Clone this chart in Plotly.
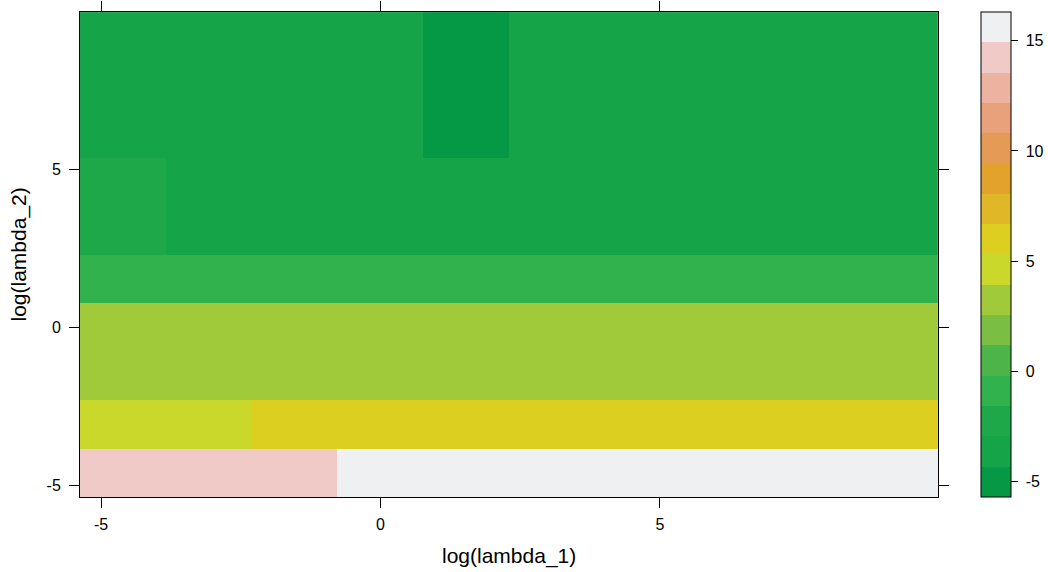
import plotly.graph_objects as go
import numpy as np

# grid coordinates (log scale values)
log_lambda_1 = [-4.61, -3.07, -1.54, 0.0, 1.54, 3.07, 4.61, 6.14, 7.68, 9.21]
log_lambda_2 = [-4.61, -3.07, -1.54, 0.0, 1.54, 3.07, 4.61, 6.14, 7.68, 9.21]

# z values, one list per log_lambda_2 row (bottom to top)
row_0 = [14.20, 14.30, 14.40, 14.94, 14.95, 14.95, 14.95, 14.95, 14.95, 14.95]
row_1 = [4.70, 4.95, 5.80, 6.10, 6.25, 6.30, 6.30, 6.30, 6.30, 6.30]
row_2 = [3.40, 3.40, 3.35, 3.30, 3.30, 3.30, 3.30, 3.30, 3.30, 3.30]
row_3 = [2.90, 2.95, 2.95, 2.95, 2.95, 2.95, 2.95, 2.95, 2.95, 2.95]
row_4 = [-0.80, -0.85, -0.90, -0.90, -0.90, -0.90, -0.90, -0.90, -0.90, -0.90]
row_5 = [-2.60, -3.40, -3.60, -3.70, -3.70, -3.70, -3.70, -3.70, -3.70, -3.70]
row_6 = [-2.80, -3.50, -3.70, -3.80, -3.90, -3.80, -3.80, -3.80, -3.80, -3.80]
row_7 = [-3.70, -3.80, -3.90, -3.95, -4.35, -3.90, -3.85, -3.85, -3.85, -3.85]
row_8 = [-3.70, -3.80, -3.85, -3.95, -4.35, -3.90, -3.85, -3.85, -3.85, -3.85]
row_9 = [-3.65, -3.75, -3.85, -3.90, -4.34, -3.90, -3.85, -3.85, -3.85, -3.85]

colorbar_ticks = [-5, 0, 5, 10, 15]
colorbar_labels = ["\u00a0-5", "\u00a00", "\u00a05", "\u00a010", "\u00a015"]
axis_ticks = [-5, 0, 5]
axis_labels = ["-5", "0", "5"]

# 16 level colours (terrain-like), low to high
level_colors = [
    "#059845", "#15a448", "#1fa84a", "#31b24c", "#4db44a", "#7bbe44",
    "#a1ca3a", "#c9d82b", "#dccf1f", "#e0b726", "#e3a22b", "#e59a55",
    "#e9a17c", "#ebb3a0", "#efcac6", "#eef0f2",
]

FONT = "Liberation Sans, Arial, Helvetica, sans-serif"

z = [row_0, row_1, row_2, row_3, row_4, row_5, row_6, row_7, row_8, row_9]
zarr = np.array(z)
zlo, zhi = zarr.min(), zarr.max()
pad = 0.07 * (zhi - zlo)
zmin, zmax = zlo - pad, zhi + pad

n = len(level_colors)
colorscale = []
for i, c in enumerate(level_colors):
    colorscale.append([i / n, c])
    colorscale.append([(i + 1) / n, c])

fig = go.Figure(
    go.Heatmap(
        x=log_lambda_1,
        y=log_lambda_2,
        z=z,
        zmin=zmin,
        zmax=zmax,
        colorscale=colorscale,
        colorbar=dict(
            thickness=30,
            thicknessmode="pixels",
            len=1,
            lenmode="fraction",
            x=(981 - 80) / 858,
            xanchor="left",
            xpad=0,
            y=0.5,
            yanchor="middle",
            ypad=0,
            outlinecolor="black",
            outlinewidth=1,
            ticks="outside",
            ticklen=7,
            tickcolor="black",
            tickvals=colorbar_ticks,
            ticktext=colorbar_labels,
            tickfont=dict(family=FONT, size=16, color="black"),
        ),
        showscale=True,
    )
)

axis_common = dict(
    showgrid=False,
    zeroline=False,
    showline=True,
    linecolor="black",
    linewidth=1,
    mirror="ticks",
    ticks="outside",
    ticklen=10,
    tickcolor="black",
    tickvals=axis_ticks,
    ticktext=axis_labels,
    automargin=False,
    tickfont=dict(family=FONT, size=16, color="black"),
)

fig.update_layout(
    width=1048,
    height=572,
    margin=dict(l=80, r=110, t=12, b=75, autoexpand=False),
    paper_bgcolor="white",
    plot_bgcolor="white",
    xaxis=dict(range=[-5.3775, 9.9775], ticklabelstandoff=3, **axis_common),
    yaxis=dict(range=[-5.3775, 9.9775], ticklabelstandoff=5, **axis_common),
    annotations=[
        dict(
            text="log(lambda_1)",
            xref="paper", yref="paper",
            x=0.5, y=(497 - 556) / 485,
            xanchor="center", yanchor="middle",
            showarrow=False,
            font=dict(family=FONT, size=21, color="black"),
        ),
        dict(
            text="log(lambda_2)",
            xref="paper", yref="paper",
            x=(18 - 80) / 858, y=0.5,
            xanchor="center", yanchor="middle",
            textangle=-90,
            showarrow=False,
            font=dict(family=FONT, size=21, color="black"),
        ),
    ],
)

fig.write_html(
    "out.html",
    config={"displayModeBar": False},
    post_script="document.body.style.margin='0';document.body.style.overflow='hidden';",
)
